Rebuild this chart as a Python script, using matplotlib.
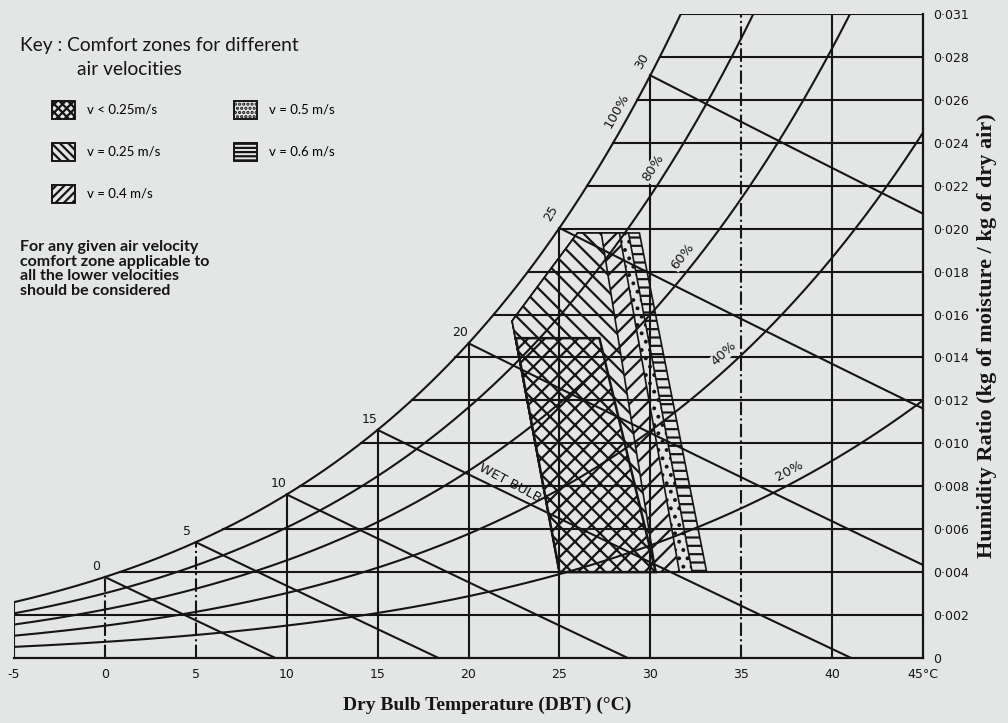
import numpy as np
import matplotlib.pyplot as plt
from matplotlib.patches import Patch

# Psychrometric chart with comfort zones for different air velocities

# --- data -----------------------------------------------------------
dbt_ticks = [-5, 0, 5, 10, 15, 20, 25, 30, 35, 40, 45]
dbt_tick_labels = ['-5', '0', '5', '10', '15', '20', '25', '30', '35', '40', '45°C']
w_ticks = [0.0, 0.002, 0.004, 0.006, 0.008, 0.010, 0.012, 0.014, 0.016,
           0.018, 0.020, 0.022, 0.024, 0.026, 0.028, 0.030]
w_tick_labels = ['0', '0·002', '0·004', '0·006', '0·008', '0·010', '0·012', '0·014',
                 '0·016', '0·018', '0·020', '0·022', '0·024', '0·026', '0·028', '0·031']
dbt_lines = [0, 5, 10, 15, 20, 25, 30, 35, 40]
dashed_dbt = [0, 5, 35]
wet_bulb_levels = [0, 5, 10, 15, 20, 25, 30]
rh_levels = [1.0, 0.8, 0.6, 0.4, 0.2]
rh_labels = ['100%', '80%', '60%', '40%', '20%']
rh_label_t = [28.7, 30.7, 32.3, 34.6, 38.2]

# comfort zones (dry bulb °C, humidity ratio)
zone_labels = ['v < 0.25m/s', 'v = 0.25 m/s', 'v = 0.4 m/s', 'v = 0.5 m/s', 'v = 0.6 m/s']
zone_left_t = [26.0, 22.4, 25.0]
zone_left_w = [0.0198, 0.0157, 0.004]
zone_top_right_t = [27.3, 28.3, 28.8, 29.4]      # v = 0.25 .. 0.6
zone_bottom_right_t = [30.3, 31.6, 32.3, 33.1]
zone0_t = [22.6, 27.2, 30.3, 25.0]               # v < 0.25
zone0_w = [0.0149, 0.0149, 0.004, 0.004]

BG = '#e3e6e5'
INK = '#151515'
P_ATM = 101.325
W_MAX = 0.030


def p_sat(t):
    return 0.61094 * np.exp(17.625 * t / (t + 243.04))


def w_rh(t, rh):
    pv = rh * p_sat(t)
    return 0.622 * pv / (P_ATM - pv)


def w_wetbulb(t, twb):
    ws = w_rh(twb, 1.0)
    return ((2501 - 2.326 * twb) * ws - 1.006 * (t - twb)) / (2501 + 1.86 * t - 4.186 * twb)


plt.rcParams['hatch.linewidth'] = 1.6
fig = plt.figure(figsize=(10.08, 7.23), dpi=100, facecolor=BG)
ax = fig.add_axes([0.0139, 0.0899, 0.9018, 0.8907], facecolor=BG)
ax.set_xlim(-5, 45)
ax.set_ylim(0, W_MAX)

line_kw = dict(color=INK, lw=1.5, zorder=4)
tt = np.linspace(-5, 45, 1001)

# saturation and relative humidity curves
for rh in rh_levels:
    w = w_rh(tt, rh)
    m = w <= W_MAX
    ax.plot(tt[m], w[m], **line_kw)

# horizontal humidity ratio lines, from saturation curve to the right edge
w_sat_curve = w_rh(tt, 1.0)
for w in w_ticks[1:]:
    t0 = max(-5, np.interp(w, w_sat_curve, tt))
    ax.plot([t0, 45], [w, w], **line_kw)

# vertical dry bulb lines
for t in dbt_lines:
    top = min(w_rh(t, 1.0), W_MAX)
    ls = '-.' if t in dashed_dbt else '-'
    ax.plot([t, t], [0, top], ls=ls, **line_kw)
ax.plot([-5, -5], [0, w_rh(-5, 1.0)], **line_kw)

# wet bulb lines
for twb in wet_bulb_levels:
    t = np.linspace(twb, 45, 400)
    w = w_wetbulb(t, twb)
    m = w >= 0
    ax.plot(t[m], w[m], **line_kw)
    ax.annotate(str(twb), (twb, w_rh(twb, 1.0)), xytext=(-6, 3), textcoords='offset points',
                ha='center', va='bottom', fontsize=9, color=INK,
                rotation=60 if twb >= 25 else 0, zorder=5)

# label partly hidden under the comfort zones
ax.text(20.6, 0.0089, 'WET BULB TEMPERATURE', fontsize=9.5, color=INK, rotation=-28,
        rotation_mode='anchor', ha='left', va='center', zorder=0.5)

# relative humidity labels rotated along the curves
for rh, lab, t in zip(rh_levels, rh_labels, rh_label_t):
    p1 = ax.transData.transform((t - 0.3, w_rh(t - 0.3, rh)))
    p2 = ax.transData.transform((t + 0.3, w_rh(t + 0.3, rh)))
    ang = np.degrees(np.arctan2(p2[1] - p1[1], p2[0] - p1[0]))
    ax.annotate(lab, (t, w_rh(t, rh)), xytext=(-7, 6), textcoords='offset points',
                rotation=ang, rotation_mode='anchor', ha='center', va='center',
                fontsize=9.5, color=INK, zorder=6,
                bbox=dict(facecolor=BG, edgecolor='none', pad=0.3))

# comfort zones, widest first so that narrower ones sit on top
zone_hatches = ['xx', '\\\\', '//', '..', '--']
for i in range(len(zone_top_right_t) - 1, -1, -1):
    zt = zone_left_t + [zone_bottom_right_t[i], zone_top_right_t[i]]
    zw = zone_left_w + [0.004, 0.0198]
    ax.fill(zt, zw, facecolor=BG, edgecolor=INK, hatch=zone_hatches[i + 1], lw=1.2, zorder=1)
ax.fill(zone0_t, zone0_w, facecolor=BG, edgecolor=INK, hatch=zone_hatches[0], lw=1.8, zorder=1)

# axes and labels
for s in ['left', 'top']:
    ax.spines[s].set_visible(False)
for s in ['right', 'bottom']:
    ax.spines[s].set_linewidth(1.6)
    ax.spines[s].set_color(INK)
ax.set_xticks(dbt_ticks, dbt_tick_labels, fontsize=9)
ax.set_yticks(w_ticks, w_tick_labels, fontsize=9)
ax.yaxis.tick_right()
ax.tick_params(length=0, pad=7, colors=INK)
ax.set_xlabel('Dry Bulb Temperature (DBT) (°C)', fontsize=14, fontweight='bold',
              family='Liberation Serif', color=INK)
ax.xaxis.set_label_coords(0.52, -0.06)
ax.yaxis.set_label_position('right')
ax.set_ylabel('Humidity Ratio (kg of moisture / kg of dry air)', fontsize=16,
              fontweight='bold', family='Liberation Serif', color=INK, labelpad=6)

# key
fig.text(0.02, 0.937, 'Key : Comfort zones for different', fontsize=13.8, color=INK,
         family='Lato', va='center')
fig.text(0.076, 0.904, 'air velocities', fontsize=13.8, color=INK,
         family='Lato', va='center')
handles = [Patch(facecolor=BG, edgecolor=INK, hatch=h * 2, lw=1.4) for h in zone_hatches]
fig.legend(handles, zone_labels, loc='upper left', bbox_to_anchor=(0.045, 0.87), ncol=2,
           frameon=False, handlelength=1.75, handleheight=1.75, borderpad=0,
           labelspacing=1.8, columnspacing=5.6, handletextpad=0.9,
           prop={'family': 'Lato', 'size': 9.5})
fig.text(0.02, 0.668, 'For any given air velocity\ncomfort zone applicable to\n'
         'all the lower velocities\nshould be considered', fontsize=11.5, color=INK,
         fontweight='bold', family='Lato', va='top', linespacing=1.05)

fig.savefig('out.png', dpi=100, facecolor=BG)
